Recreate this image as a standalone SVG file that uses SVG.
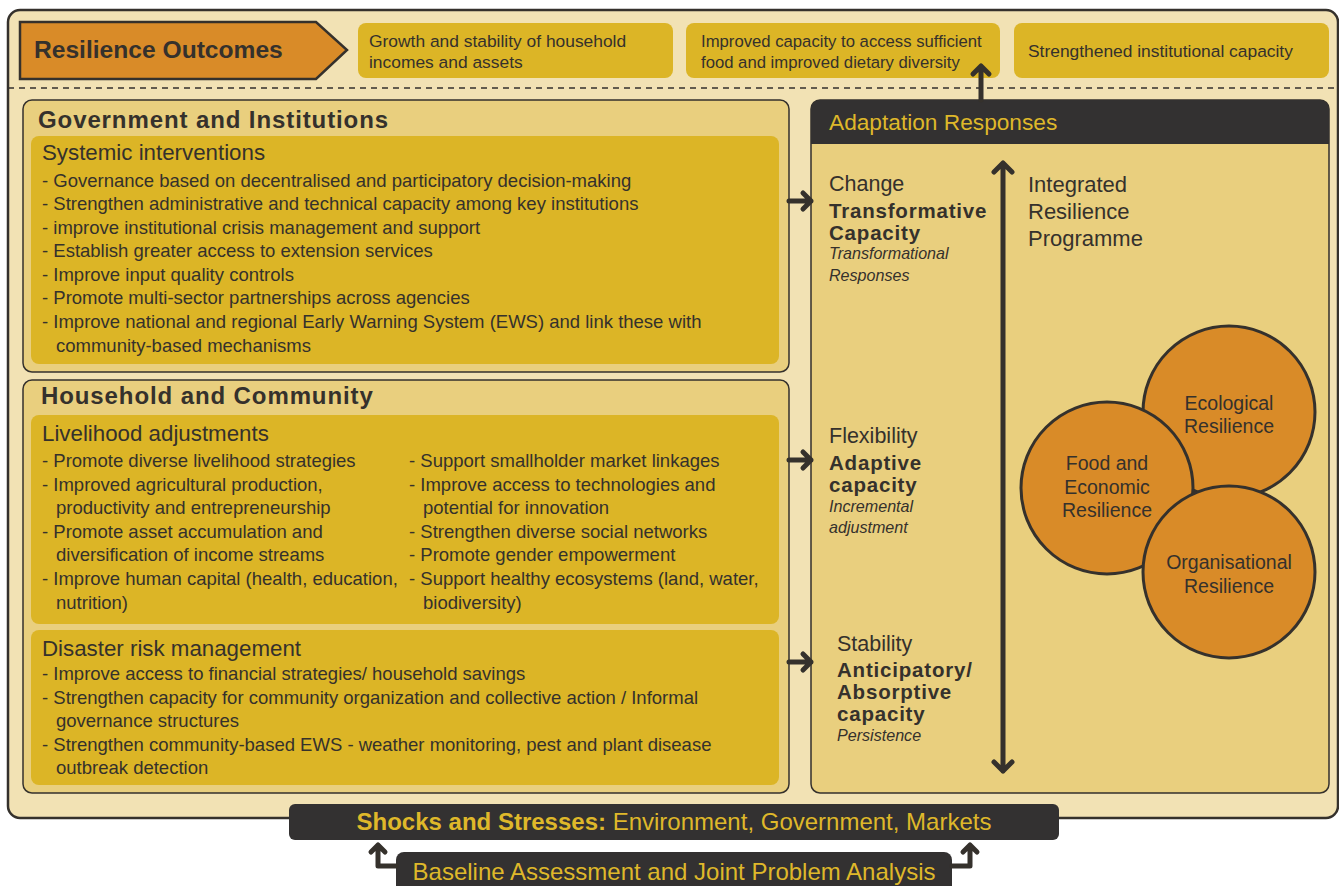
<svg xmlns="http://www.w3.org/2000/svg" width="1339" height="886" viewBox="0 0 1339 886">
<style>
text{font-family:"Liberation Sans",Arial,sans-serif;fill:#35312c}
.oc{font-size:17.4px}
.oc2{font-size:16.7px}
.h1{font-size:24px;font-weight:bold;letter-spacing:0.9px}
.h2{font-size:22.3px}
.b{font-size:18.5px}
.lab{font-size:21.5px}
.lab2{font-size:22px}
.bold{font-size:20.5px;font-weight:bold;letter-spacing:0.8px}
.it{font-size:16.1px;font-style:italic}
.circ{font-size:19.5px;text-anchor:middle}
.panel{fill:#e9cf7e;stroke:#35312c;stroke-width:1.5}
.inner{fill:#dcb526}
.arr{fill:none;stroke:#35312c;stroke-width:5;stroke-linecap:round;stroke-linejoin:round}
.circle{fill:#d98b28;stroke:#35312c;stroke-width:3}
</style>
<rect x="0" y="0" width="1339" height="886" fill="#ffffff"/>
<g id="frame">
<rect x="8" y="10" width="1330" height="808" rx="12" fill="#f2e2b4" stroke="#35312c" stroke-width="2.5"/>
<line x1="8" y1="88" x2="1338" y2="88" stroke="#35312c" stroke-width="1.5" stroke-dasharray="6,5"/>
</g>
<g id="resilience-outcomes">
<polygon points="20,22 316,22 347,50 316,79 20,79" fill="#d98b28" stroke="#35312c" stroke-width="2.5"/>
<text x="34" y="58" style="font-size:24.6px;font-weight:bold">Resilience Outcomes</text>
</g>
<g id="outcome-1">
<rect x="358" y="23" width="315" height="55" rx="8" class="inner"/>
<text class="oc" x="369" y="47">Growth and stability of household</text>
<text class="oc" x="369" y="68">incomes and assets</text>
</g>
<g id="outcome-2">
<rect x="686" y="23" width="314" height="55" rx="8" class="inner"/>
<text class="oc2" x="701" y="47">Improved capacity to access sufficient</text>
<text class="oc2" x="701" y="68">food and improved dietary diversity</text>
</g>
<g id="outcome-3">
<rect x="1014" y="23" width="315" height="55" rx="8" class="inner"/>
<text class="oc" x="1028" y="57">Strengthened institutional capacity</text>
</g>
<g id="government-institutions">
<rect x="23" y="100" width="766" height="272" rx="9" class="panel"/>
<text class="h1" x="38" y="128">Government and Institutions</text>
<rect x="31" y="136" width="748" height="228" rx="8" class="inner"/>
<text class="h2" x="42" y="160">Systemic interventions</text>
<text class="b" x="42" y="187">- Governance based on decentralised and participatory decision-making</text>
<text class="b" x="42" y="210">- Strengthen administrative and technical capacity among key institutions</text>
<text class="b" x="42" y="234">- improve institutional crisis management and support</text>
<text class="b" x="42" y="257">- Establish greater access to extension services</text>
<text class="b" x="42" y="281">- Improve input quality controls</text>
<text class="b" x="42" y="304">- Promote multi-sector partnerships across agencies</text>
<text class="b" x="42" y="328">- Improve national and regional Early Warning System (EWS) and link these with</text>
<text class="b" x="56" y="352">community-based mechanisms</text>
</g>
<g id="household-community">
<rect x="23" y="380" width="766" height="413" rx="9" class="panel"/>
<text class="h1" x="41" y="404">Household and Community</text>
<rect x="31" y="415" width="748" height="209" rx="8" class="inner"/>
<text class="h2" x="42" y="441">Livelihood adjustments</text>
<text class="b" x="42" y="467">- Promote diverse livelihood strategies</text>
<text class="b" x="42" y="491">- Improved agricultural production,</text>
<text class="b" x="56" y="514">productivity and entrepreneurship</text>
<text class="b" x="42" y="538">- Promote asset accumulation and</text>
<text class="b" x="56" y="561">diversification of income streams</text>
<text class="b" x="42" y="585">- Improve human capital (health, education,</text>
<text class="b" x="56" y="609">nutrition)</text>
<text class="b" x="409" y="467">- Support smallholder market linkages</text>
<text class="b" x="409" y="491">- Improve access to technologies and</text>
<text class="b" x="423" y="514">potential for innovation</text>
<text class="b" x="409" y="538">- Strengthen diverse social networks</text>
<text class="b" x="409" y="561">- Promote gender empowerment</text>
<text class="b" x="409" y="585">- Support healthy ecosystems (land, water,</text>
<text class="b" x="423" y="609">biodiversity)</text>
<rect x="31" y="630" width="748" height="155" rx="8" class="inner"/>
<text class="h2" x="42" y="656">Disaster risk management</text>
<text class="b" x="42" y="680">- Improve access to financial strategies/ household savings</text>
<text class="b" x="42" y="704">- Strengthen capacity for community organization and collective action / Informal</text>
<text class="b" x="56" y="727">governance structures</text>
<text class="b" x="42" y="751">- Strengthen community-based EWS - weather monitoring, pest and plant disease</text>
<text class="b" x="56" y="774">outbreak detection</text>
</g>
<g id="adaptation-responses">
<rect x="811" y="100" width="518" height="693" rx="9" class="panel"/>
<path d="M811,144 V109 a9,9 0 0 1 9,-9 H1320 a9,9 0 0 1 9,9 V144 Z" fill="#333131"/>
<text x="829" y="130" style="font-size:22.7px;fill:#dfb82a">Adaptation Responses</text>
<text class="lab" x="829" y="191">Change</text>
<text class="bold" x="829" y="218">Transformative</text>
<text class="bold" x="829" y="240">Capacity</text>
<text class="it" x="829" y="259">Transformational</text>
<text class="it" x="829" y="281">Responses</text>
<text class="lab" x="829" y="443">Flexibility</text>
<text class="bold" x="829" y="470">Adaptive</text>
<text class="bold" x="829" y="492">capacity</text>
<text class="it" x="829" y="512">Incremental</text>
<text class="it" x="829" y="533">adjustment</text>
<text class="lab" x="837" y="651">Stability</text>
<text class="bold" x="837" y="677">Anticipatory/</text>
<text class="bold" x="837" y="699">Absorptive</text>
<text class="bold" x="837" y="721">capacity</text>
<text class="it" x="837" y="741">Persistence</text>
<text class="lab2" x="1028" y="192">Integrated</text>
<text class="lab2" x="1028" y="219">Resilience</text>
<text class="lab2" x="1028" y="246">Programme</text>
</g>
<g id="ecological-resilience">
<circle cx="1229" cy="412" r="86" class="circle"/>
<text class="circ" x="1229" y="410">Ecological</text>
<text class="circ" x="1229" y="433">Resilience</text>
</g>
<g id="food-economic-resilience">
<circle cx="1107" cy="488" r="86" class="circle"/>
<text class="circ" x="1107" y="470">Food and</text>
<text class="circ" x="1107" y="494">Economic</text>
<text class="circ" x="1107" y="517">Resilience</text>
</g>
<g id="organisational-resilience">
<circle cx="1229" cy="572" r="86" class="circle"/>
<text class="circ" x="1229" y="569">Organisational</text>
<text class="circ" x="1229" y="593">Resilience</text>
</g>
<g id="shocks-stresses">
<rect x="289" y="804" width="770" height="36" rx="6" fill="#333131"/>
<text x="674" y="830" text-anchor="middle" style="font-size:24px;fill:#dfb82a"><tspan font-weight="bold">Shocks and Stresses:</tspan> Environment, Government, Markets</text>
</g>
<g id="baseline-assessment">
<rect x="396" y="852" width="556" height="44" rx="8" fill="#333131"/>
<text x="674" y="880" text-anchor="middle" style="font-size:24px;fill:#dfb82a">Baseline Assessment and Joint Problem Analysis</text>
</g>
<g id="connectors">
<path class="arr" d="M981,100 V66 M973,74 L981,66 L989,74"/>
<path class="arr" d="M789,201 H811 M803,193 L811,201 L803,209"/>
<path class="arr" d="M789,460 H811 M803,452 L811,460 L803,468"/>
<path class="arr" d="M789,662 H811 M803,654 L811,662 L803,670"/>
<path class="arr" d="M1003,163 V771 M994,172 L1003,163 L1012,172 M994,762 L1003,771 L1012,762"/>
<path class="arr" d="M396,866 H378 V845 M371,852 L378,845 L385,852"/>
<path class="arr" d="M952,866 H970 V845 M963,852 L970,845 L977,852"/>
</g>
</svg>
